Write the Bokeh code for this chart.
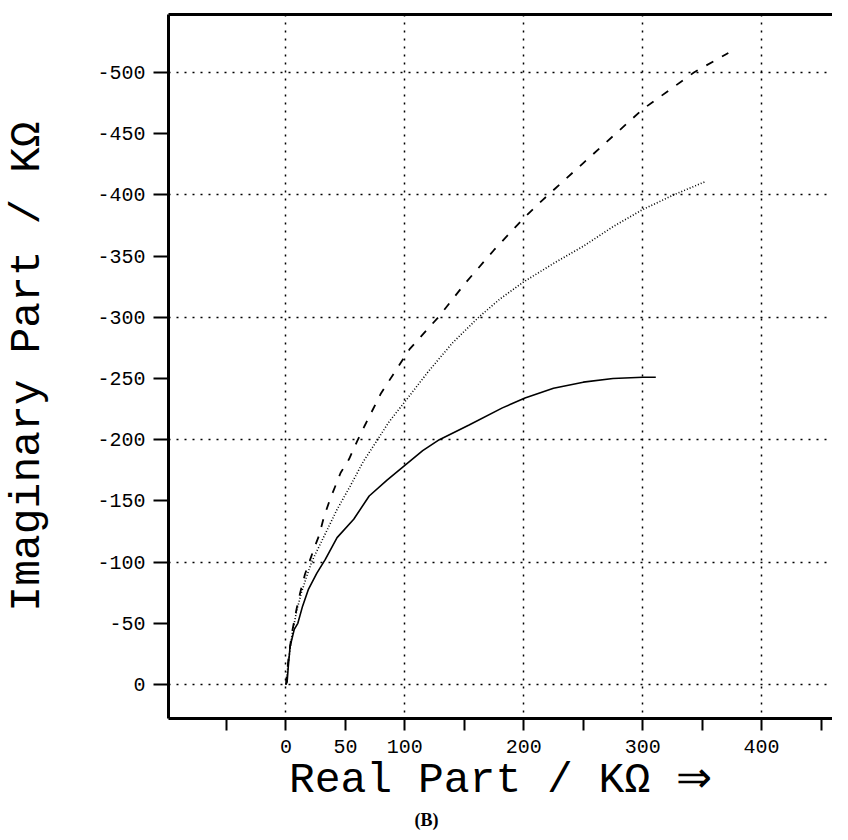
from bokeh.plotting import figure
from bokeh.models import Range1d, FixedTicker, Title, LinearAxis
from bokeh.embed import file_html
from bokeh.resources import INLINE

# Solid curve
solid_x = [0, 1, 2, 3.5, 7, 10, 14, 19, 26, 33, 43, 57, 70, 85, 100, 115, 129, 154, 182, 201, 225, 250, 275, 300, 311]
solid_y = [0, -2, -15, -31, -45, -50, -64, -78, -91, -102, -120, -135, -154, -167, -179, -191, -200, -212, -226, -234, -242, -247, -250, -251, -251]

# Dotted curve
dot_x = [0, 2, 5, 9, 13, 18, 22, 28, 35, 43, 54, 65, 75, 87, 100, 120, 140, 162, 180, 200, 225, 250, 275, 300, 326, 353]
dot_y = [0, -18, -40, -60, -75, -90, -101, -113, -127, -143, -162, -182, -197, -215, -231, -256, -279, -300, -315, -329, -344, -358, -374, -388, -400, -411]

# Dashed curve
dash_x = [0, 2, 5, 9, 12, 16, 20, 24, 28, 32, 37, 46, 53, 60, 66, 80, 104, 129, 150, 175, 200, 216, 250, 300, 343, 372]
dash_y = [0, -20, -42, -62, -75, -90, -101, -112, -122, -137, -151, -173, -184, -199, -211, -238, -274, -301, -327, -355, -381, -396, -426, -470, -500, -516]

x_ticks = [-50, 0, 50, 100, 150, 200, 250, 300, 350, 400, 450]
x_labels = ["", "0", "50", "100", "", "200", "", "300", "", "400", ""]
y_ticks = [0, -50, -100, -150, -200, -250, -300, -350, -400, -450, -500]
y_labels = ["0", "-50", "-100", "-150", "-200", "-250", "-300", "-350", "-400", "-450", "-500"]
x_grid = [0, 100, 200, 300, 400]
y_grid = [0, -100, -200, -300, -400, -500]

MONO = "Liberation Mono"

p = figure(width=832, height=830, output_backend="svg", toolbar_location=None,
           x_range=Range1d(-98.75, 459.6), y_range=Range1d(27.8, -547.4),
           min_border_left=162, min_border_right=0, min_border_top=14, min_border_bottom=112)
p.background_fill_color = "white"
p.border_fill_color = "white"
p.outline_line_color = None

for ax in (p.xaxis[0], p.yaxis[0]):
    ax.axis_line_color = "black"
    ax.axis_line_width = 3
    ax.major_tick_line_color = "black"
    ax.major_tick_line_width = 2
    ax.major_tick_in = 0
    ax.minor_tick_line_color = None
    ax.major_label_text_font = MONO
    ax.major_label_text_font_size = "20px"
    ax.major_label_text_color = "black"
    ax.axis_label_text_font = MONO
    ax.axis_label_text_font_size = "43px"
    ax.axis_label_text_font_style = "normal"
    ax.axis_label_text_color = "black"

p.xaxis.ticker = FixedTicker(ticks=x_ticks)
p.xaxis.major_label_overrides = {t: l for t, l in zip(x_ticks, x_labels)}
p.xaxis.major_tick_out = 12
p.xaxis.major_label_standoff = 9
p.xaxis.axis_label = "Real Part / KΩ ⇒"
p.xaxis.axis_label_standoff = 0

p.yaxis.ticker = FixedTicker(ticks=y_ticks)
p.yaxis.major_label_overrides = {t: l for t, l in zip(y_ticks, y_labels)}
p.yaxis.major_tick_out = 15
p.yaxis.major_label_standoff = 8
p.yaxis.axis_label = "Imaginary Part / KΩ"
p.yaxis.axis_label_standoff = 42

# top border of the frame (the right border is cut off in the reference)
top = LinearAxis(ticker=FixedTicker(ticks=[]), axis_line_width=3, axis_line_color="black",
                 major_tick_line_color=None, minor_tick_line_color=None,
                 major_label_text_font_size="0px")
p.add_layout(top, "above")

p.xgrid.ticker = FixedTicker(ticks=x_grid)
p.ygrid.ticker = FixedTicker(ticks=y_grid)
for g in (p.xgrid[0], p.ygrid[0]):
    g.grid_line_color = "black"
    g.grid_line_width = 1.5
    g.grid_line_dash = "2 6"
    g.grid_line_alpha = 1.0

p.line(solid_x, solid_y, line_color="black", line_width=1.6)
p.line(dot_x, dot_y, line_color="black", line_width=1.6, line_dash="1 2")
p.line(dash_x, dash_y, line_color="black", line_width=1.8, line_dash="8 10")

p.add_layout(Title(text="(B)", align="left", offset=246, standoff=0,
                   text_font="Liberation Serif", text_font_style="bold",
                   text_font_size="18px", text_color="black"), "below")

open("out.html", "w").write(file_html(p, INLINE))
